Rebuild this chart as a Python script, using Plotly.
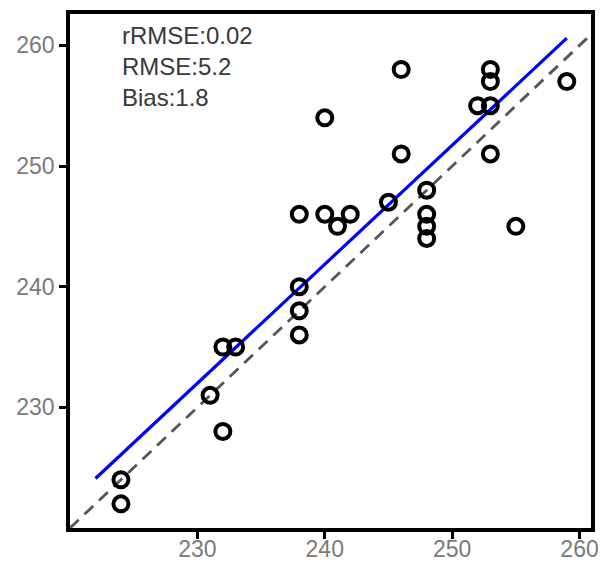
import plotly.graph_objects as go

obs_x = [224, 224, 231, 232, 232, 233, 238, 238, 238, 238, 240, 240, 241, 242,
         245, 246, 246, 248, 248, 248, 248, 252, 253, 253, 253, 253, 255, 259]
pred_y = [222, 224, 231, 228, 235, 235, 236, 238, 240, 246, 254, 246, 245, 246,
          247, 258, 251, 248, 246, 245, 244, 255, 255, 257, 258, 251, 245, 257]

# Fitted regression line endpoints
fit_x = [222, 259]
fit_y = [224.1, 260.6]

# 1:1 reference line
ref_x = [220, 262]
ref_y = [220, 262]

stats_labels = ["rRMSE:0.02", "RMSE:5.2", "Bias:1.8"]
tick_vals = [230, 240, 250, 260]
tick_text = ["230", "240", "250", "260"]

x_range = [220, 260.9]
y_range = [220, 262.6]

fig = go.Figure()

fig.add_trace(go.Scatter(
    x=ref_x, y=ref_y, mode="lines",
    line=dict(color="#555555", width=2.8, dash="12px,8px"),
    hoverinfo="skip", showlegend=False,
))
fig.add_trace(go.Scatter(
    x=fit_x, y=fit_y, mode="lines",
    line=dict(color="#0000FF", width=3.2),
    showlegend=False,
))
fig.add_trace(go.Scatter(
    x=obs_x, y=pred_y, mode="markers",
    marker=dict(symbol="circle-open", size=15, color="black",
                line=dict(width=4, color="black")),
    showlegend=False,
))

ann_y = [260.85, 258.25, 255.7]
for lbl, yy in zip(stats_labels, ann_y):
    fig.add_annotation(
        x=223.95, y=yy, xref="x", yref="y", text=lbl, showarrow=False,
        xanchor="left", yanchor="middle",
        font=dict(family="Liberation Sans, Arial, sans-serif", size=24, color="#383838"),
    )

axis_common = dict(
    showgrid=False, zeroline=False, showline=True, linecolor="black", linewidth=3.5,
    mirror=True, ticks="outside", ticklen=7, tickwidth=2.5, tickcolor="black",
    tickfont=dict(family="Liberation Sans, Arial, sans-serif", size=23, color="#7a7a7a"),
    tickvals=tick_vals, ticktext=tick_text, automargin=False,
)

fig.update_xaxes(range=x_range, ticklabelstandoff=-9, **axis_common)
fig.update_yaxes(range=y_range, **axis_common)

fig.update_layout(
    width=606, height=563,
    margin=dict(l=70, r=15, t=14, b=35, pad=0),
    plot_bgcolor="white", paper_bgcolor="white",
    showlegend=False,
)

fig.write_html("out.html", config={"displayModeBar": False},
               post_script="document.body.style.margin='0';")
